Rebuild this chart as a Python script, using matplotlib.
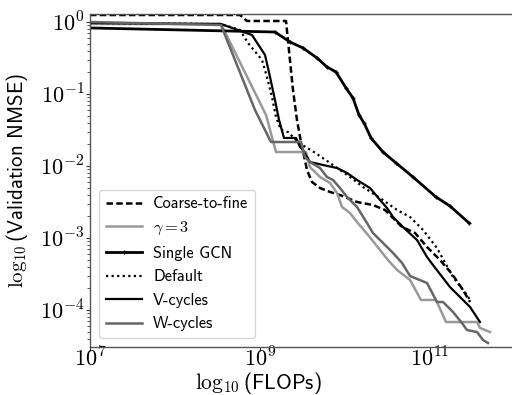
import numpy as np
import matplotlib
matplotlib.use("Agg")
import matplotlib.pyplot as plt
from matplotlib.ticker import FuncFormatter, FixedLocator, NullLocator, LogLocator

plt.rcParams['font.family'] = ['cmss10', 'DejaVu Sans']
plt.rcParams['mathtext.fontset'] = 'cm'
plt.rcParams['axes.unicode_minus'] = False

# Data: log10(FLOPs) and log10(validation NMSE)
c2f_logx = [7.0, 8.765, 8.847, 9.306, 9.388, 9.435, 9.471, 9.553, 9.612, 9.706, 9.824, 9.941,
            10.141, 10.329, 10.471, 10.553, 10.671, 10.824, 10.965, 11.118, 11.259, 11.388, 11.471]
c2f_logy = [0.097, 0.097, 0.014, 0.014, -0.944, -1.361, -1.597, -2.056, -2.222, -2.306, -2.361, -2.403,
            -2.500, -2.542, -2.611, -2.708, -2.847, -2.931, -3.125, -3.306, -3.500, -3.722, -3.889]

gamma_logx = [7.0, 8.541, 9.071, 9.188, 9.541, 9.588, 9.706, 9.824, 9.906, 9.965, 10.059, 10.141,
              10.271, 10.412, 10.506, 10.612, 10.765, 10.894, 11.071, 11.188, 11.553, 11.588, 11.706]
gamma_logy = [-0.028, -0.028, -1.292, -1.806, -1.806, -2.014, -2.153, -2.236, -2.375, -2.569, -2.653, -2.778,
              -2.958, -3.167, -3.306, -3.444, -3.583, -3.861, -3.861, -4.167, -4.167, -4.250, -4.306]

gcn_logx = [7.0, 9.176, 9.353, 9.506, 9.671, 9.788, 9.894, 10.012, 10.094, 10.165, 10.224, 10.306,
            10.447, 10.600, 10.800, 11.071, 11.235, 11.459]
gcn_logy = [-0.083, -0.139, -0.278, -0.361, -0.500, -0.625, -0.694, -0.917, -1.056, -1.292, -1.403, -1.611,
            -1.806, -1.958, -2.153, -2.431, -2.556, -2.792]

default_logx = [7.0, 8.541, 8.765, 8.859, 9.024, 9.082, 9.141, 9.188, 9.247, 9.329, 9.459, 9.635,
                9.824, 10.059, 10.212, 10.412, 10.612, 10.765, 10.918, 11.082, 11.271, 11.435, 11.471]
default_logy = [-0.014, -0.028, -0.111, -0.292, -0.528, -0.764, -1.042, -1.319, -1.500, -1.528, -1.681, -1.806,
                -1.958, -2.153, -2.292, -2.444, -2.611, -2.708, -2.889, -3.139, -3.542, -3.792, -3.861]

vcyc_logx = [7.0, 8.541, 8.906, 9.059, 9.118, 9.176, 9.224, 9.282, 9.424, 9.471, 9.506, 9.588,
             9.741, 9.906, 10.024, 10.141, 10.294, 10.412, 10.494, 10.565, 10.682, 10.847, 10.965,
             11.035, 11.235, 11.471, 11.588]
vcyc_logy = [-0.014, -0.028, -0.181, -0.458, -0.764, -1.083, -1.361, -1.611, -1.611, -1.736, -1.778, -1.944,
             -1.986, -2.028, -2.097, -2.194, -2.306, -2.472, -2.583, -2.708, -2.847, -3.028, -3.264,
             -3.375, -3.681, -3.958, -4.167]

wcyc_logx = [7.0, 8.541, 8.941, 9.129, 9.482, 9.529, 9.588, 9.706, 9.788, 9.859, 9.941, 10.024,
             10.141, 10.259, 10.329, 10.447, 10.565, 10.671, 10.765, 10.965, 11.082, 11.153, 11.271,
             11.376, 11.435, 11.553, 11.624, 11.682]
wcyc_logy = [0.0, -0.042, -1.222, -1.667, -1.667, -1.875, -1.944, -2.028, -2.153, -2.194, -2.306, -2.431,
             -2.569, -2.792, -2.931, -3.069, -3.208, -3.347, -3.528, -3.625, -3.889, -3.889, -4.028,
             -4.181, -4.278, -4.306, -4.417, -4.458]

xtick_exps = [7, 9, 11]
ytick_exps = [0, -1, -2, -3, -4]

fig = plt.figure(figsize=(5.12, 3.95), dpi=100)
ax = fig.add_axes([90 / 512, 48 / 395, 425 / 512, 333 / 395])

def p(lx, ly):
    return np.power(10.0, lx), np.power(10.0, ly)

x, y = p(c2f_logx, c2f_logy)
ax.plot(x, y, color='black', lw=1.8, ls=(0, (2.6, 1.3)), label='Coarse-to-fine')
x, y = p(gamma_logx, gamma_logy)
ax.plot(x, y, color='#999999', lw=1.8, label=r'$\gamma = 3$')
x, y = p(gcn_logx, gcn_logy)
ax.plot(x, y, color='black', lw=2.0, marker='+', ms=3.5, mew=1.0, markevery=slice(1, None),
        label='Single GCN')
x, y = p(default_logx, default_logy)
ax.plot(x, y, color='black', lw=1.6, ls=(0, (1, 1.5)), label='Default')
x, y = p(vcyc_logx, vcyc_logy)
ax.plot(x, y, color='black', lw=1.6, label='V-cycles')
x, y = p(wcyc_logx, wcyc_logy)
ax.plot(x, y, color='#666666', lw=1.8, label='W-cycles')

ax.set_xscale('log')
ax.set_yscale('log')
ax.set_xlim(1e7, 1e12)
ax.set_ylim(10 ** -4.514, 10 ** 0.111)

ax.xaxis.set_major_locator(FixedLocator([10.0 ** e for e in xtick_exps]))
ax.xaxis.set_minor_locator(NullLocator())
ax.yaxis.set_major_locator(FixedLocator([10.0 ** e for e in ytick_exps]))
ax.yaxis.set_minor_locator(LogLocator(base=10, subs=np.arange(2, 10), numticks=20))
fmt = FuncFormatter(lambda v, pos: r'$10^{%d}$' % int(round(np.log10(v))))
ax.xaxis.set_major_formatter(fmt)
ax.yaxis.set_major_formatter(fmt)
ax.tick_params(axis='both', which='major', labelsize=16, length=3, pad=1, color='#333333')
ax.tick_params(axis='x', which='major', pad=-3.5)
ax.tick_params(axis='y', which='minor', length=2, color='#333333')

for s in ax.spines.values():
    s.set_color('#555555')
    s.set_linewidth(1.0)

ax.set_xlabel(r'$\log_{10}$(FLOPs)', fontsize=15.5, va='baseline')
ax.xaxis.set_label_coords((258 - 90) / 425, -0.126)
ax.set_ylabel(r'$\log_{10}$(Validation NMSE)', fontsize=15, labelpad=7)

leg = ax.legend(loc='lower left', fontsize=11.8, handlelength=2.2, handletextpad=0.7,
                labelspacing=0.52, borderaxespad=0.55, numpoints=1, markerscale=1.0)

fig.savefig('out.png', dpi=100)
